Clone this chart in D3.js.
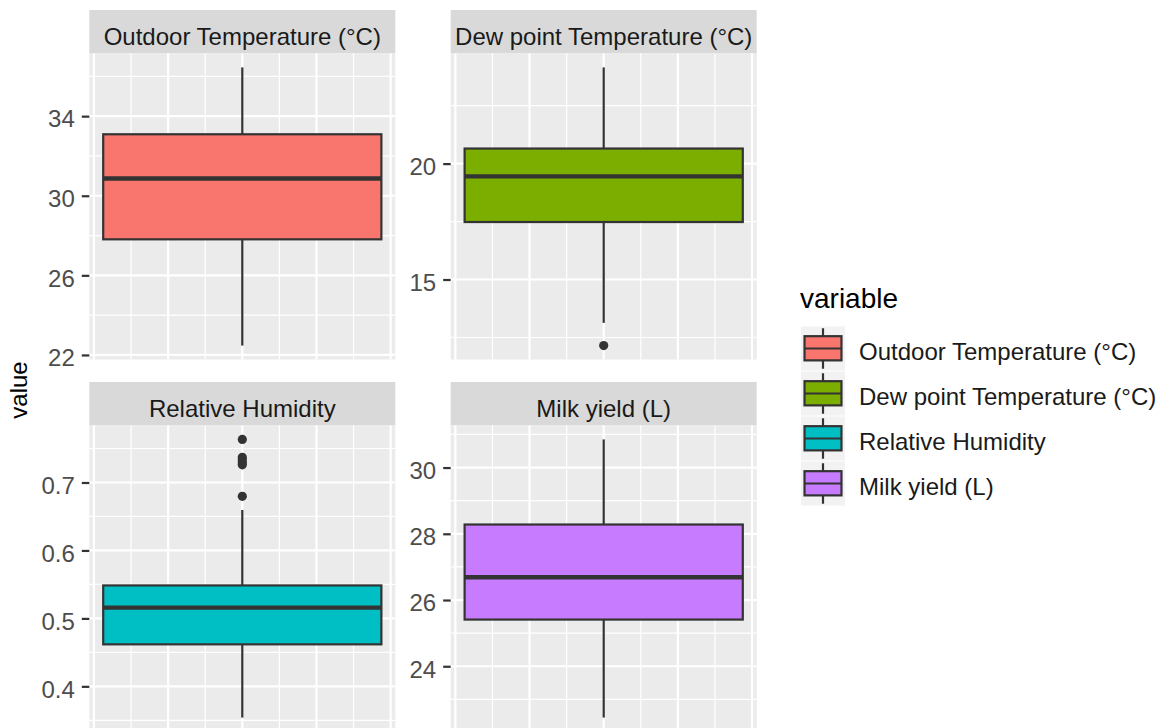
<!DOCTYPE html>
<html>
<head>
<meta charset="utf-8">
<script src="https://cdn.jsdelivr.net/npm/d3@7"></script>
<style>
  body { margin: 0; background: #ffffff; }
  svg { display: block; }
  text { font-family: "Liberation Sans", Arial, sans-serif; }
</style>
</head>
<body>
<svg id="chart" width="1167" height="728"></svg>
<script>
// Facet order and box fill for each measured variable
const variables = [
  "Outdoor Temperature (°C)",
  "Dew point Temperature (°C)",
  "Relative Humidity",
  "Milk yield (L)"
];
const fills = ["#F8766D", "#7CAE00", "#00BFC4", "#C77CFF"];

// Five-number summaries (whisker ends, quartiles, median)
const whiskerLow  = [22.47, 13.13, 0.354, 22.45];
const q1          = [27.81, 17.48, 0.4618, 25.41];
const median      = [30.87, 19.45, 0.5158, 26.69];
const q3          = [33.09, 20.65, 0.5485, 28.28];
const whiskerHigh = [36.45, 24.15, 0.6595, 30.85];

// Points beyond the whiskers
const outliers = [
  [],
  [12.15],
  [0.7634, 0.737, 0.733, 0.729, 0.726, 0.6796],
  []
];

// Labelled y breaks per facet (free scales)
const yTicks = [
  [22, 26, 30, 34],
  [15, 20],
  [0.4, 0.5, 0.6, 0.7],
  [24, 26, 28, 30]
];

const svg = d3.select("#chart");
svg.append("rect").attr("width", 1167).attr("height", 728).attr("fill", "#ffffff");

const panelW = 306, panelH = 306, stripH = 43.5;
const colX = [89.3, 450.7];
const rowY = [10, 382];
const lineW = 2.2;
const ink = "#333333";

variables.forEach((name, i) => {
  const col = i % 2, row = Math.floor(i / 2);
  const x0 = colX[col], sy = rowY[row], y0 = sy + stripH;

  // strip
  svg.append("rect")
    .attr("x", x0).attr("y", sy).attr("width", panelW).attr("height", stripH)
    .attr("fill", "#D9D9D9");
  svg.append("text")
    .attr("x", x0 + panelW / 2).attr("y", sy + 34.5)
    .attr("text-anchor", "middle")
    .attr("font-size", 24).attr("fill", "#1A1A1A")
    .text(name);

  const g = svg.append("g").attr("transform", `translate(${x0},${y0})`);

  const vals = [whiskerLow[i], whiskerHigh[i], ...outliers[i]];
  const [lo, hi] = d3.extent(vals);
  const pad = (hi - lo) * 0.05;
  const y = d3.scaleLinear().domain([lo - pad, hi + pad]).range([panelH, 0]);
  const x = d3.scaleLinear().domain([-0.4125, 0.4125]).range([0, panelW]);

  g.append("rect").attr("width", panelW).attr("height", panelH).attr("fill", "#EBEBEB");

  // horizontal grid: majors at breaks, minors half-way
  const ticks = yTicks[i];
  const step = ticks[1] - ticks[0];
  const minors = [];
  [ticks[0] - step / 2, ...ticks.map(t => t + step / 2)].forEach(m => {
    if (m >= y.domain()[0] && m <= y.domain()[1]) minors.push(m);
  });
  g.selectAll(".hmin").data(minors).join("line")
    .attr("x1", 0).attr("x2", panelW)
    .attr("y1", d => y(d)).attr("y2", d => y(d))
    .attr("stroke", "#ffffff").attr("stroke-width", 1.2);
  g.selectAll(".hmaj").data(ticks).join("line")
    .attr("x1", 0).attr("x2", panelW)
    .attr("y1", d => y(d)).attr("y2", d => y(d))
    .attr("stroke", "#ffffff").attr("stroke-width", lineW);

  // vertical grid on the continuous x scale
  const xs = d3.range(-4, 5).map(k => k / 10);
  g.selectAll(".vg").data(xs).join("line")
    .attr("x1", d => x(d)).attr("x2", d => x(d))
    .attr("y1", 0).attr("y2", panelH)
    .attr("stroke", "#ffffff")
    .attr("stroke-width", (d, k) => (k % 2 === 0 ? lineW : 1.2));

  // box and whiskers
  const cx = x(0);
  g.append("line").attr("x1", cx).attr("x2", cx)
    .attr("y1", y(q3[i])).attr("y2", y(whiskerHigh[i]))
    .attr("stroke", ink).attr("stroke-width", lineW);
  g.append("line").attr("x1", cx).attr("x2", cx)
    .attr("y1", y(q1[i])).attr("y2", y(whiskerLow[i]))
    .attr("stroke", ink).attr("stroke-width", lineW);
  g.append("rect")
    .attr("x", x(-0.375)).attr("width", x(0.375) - x(-0.375))
    .attr("y", y(q3[i])).attr("height", y(q1[i]) - y(q3[i]))
    .attr("fill", fills[i]).attr("stroke", ink).attr("stroke-width", lineW);
  g.append("line")
    .attr("x1", x(-0.375)).attr("x2", x(0.375))
    .attr("y1", y(median[i])).attr("y2", y(median[i]))
    .attr("stroke", ink).attr("stroke-width", 4.4);

  g.selectAll(".out").data(outliers[i]).join("circle")
    .attr("cx", cx).attr("cy", d => y(d)).attr("r", 4.6)
    .attr("fill", ink);

  // y axis
  const ax = g.append("g").call(
    d3.axisLeft(y).tickValues(ticks).tickSize(7.5).tickPadding(7)
      .tickFormat(d => String(d))
  );
  ax.select(".domain").remove();
  ax.selectAll(".tick line").attr("stroke", ink).attr("stroke-width", lineW);
  ax.selectAll(".tick text")
    .attr("font-size", 24).attr("fill", "#4D4D4D")
    .attr("font-family", "\"Liberation Sans\", Arial, sans-serif")
    .attr("dy", "0.45em");
});

// y axis title
svg.append("text")
  .attr("transform", "translate(27,390) rotate(-90)")
  .attr("text-anchor", "middle")
  .attr("font-size", 24).attr("fill", "#000000")
  .text("value");

// legend
const legend = svg.append("g").attr("transform", "translate(801,0)");
legend.append("text")
  .attr("x", -1).attr("y", 308)
  .attr("font-size", 28).attr("fill", "#000000")
  .text("variable");

const keyW = 44, keyH = 44, keyPitch = 45, keyTop = 326.5;
variables.forEach((name, i) => {
  const ky = keyTop + i * keyPitch;
  const k = legend.append("g").attr("transform", `translate(0,${ky})`);
  k.append("rect").attr("width", keyW).attr("height", keyH).attr("fill", "#F2F2F2");
  k.append("line").attr("x1", keyW / 2).attr("x2", keyW / 2)
    .attr("y1", keyH * 0.04).attr("y2", keyH * 0.96)
    .attr("stroke", ink).attr("stroke-width", lineW);
  k.append("rect")
    .attr("x", keyW * 0.08).attr("width", keyW * 0.84)
    .attr("y", keyH * 0.22).attr("height", keyH * 0.55)
    .attr("fill", fills[i]).attr("stroke", ink).attr("stroke-width", lineW);
  k.append("line")
    .attr("x1", keyW * 0.08).attr("x2", keyW * 0.92)
    .attr("y1", keyH * 0.5).attr("y2", keyH * 0.5)
    .attr("stroke", ink).attr("stroke-width", lineW);
  k.append("text")
    .attr("x", 58).attr("y", keyH / 2 + 11)
    .attr("font-size", 24).attr("fill", "#1A1A1A")
    .text(name);
});
</script>
</body>
</html>
